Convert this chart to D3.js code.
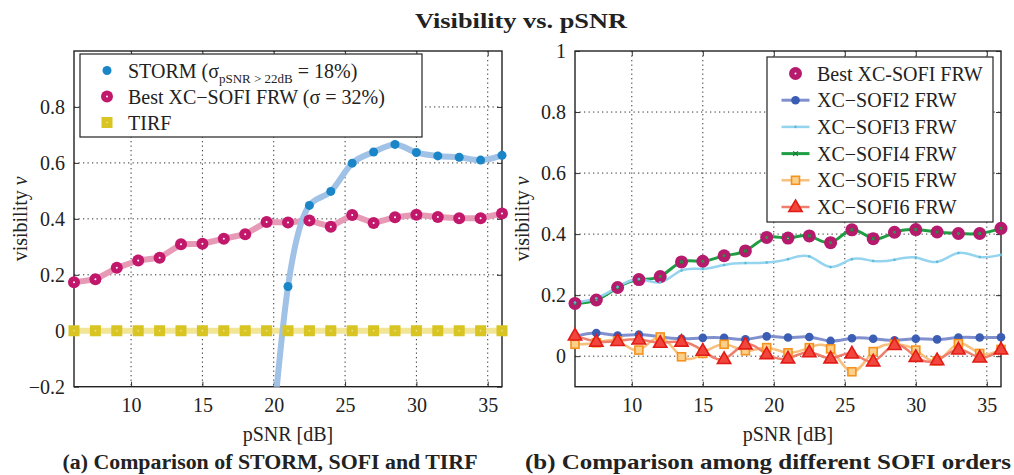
<!DOCTYPE html>
<html>
<head>
<meta charset="utf-8">
<script src="https://cdn.jsdelivr.net/npm/d3@7"></script>
<style>
  body { margin: 0; background: #fff; }
  text { font-family: "Liberation Serif", "Times New Roman", serif; fill: #222; }
</style>
</head>
<body>
<script>
// pSNR values (dB) of the measurements
const psnr = [6, 7.5, 9, 10.5, 12, 13.5, 15, 16.5, 18, 19.5, 21, 22.5, 24, 25.5, 27, 28.5, 30, 31.5, 33, 34.5, 36];

// panel (a)
const storm = [null, null, null, null, null, null, null, null, null, -0.6, 0.158, 0.448, 0.498, 0.599, 0.639, 0.666, 0.637, 0.625, 0.620, 0.610, 0.627];
const bestSofi = [0.173, 0.184, 0.225, 0.251, 0.261, 0.309, 0.311, 0.329, 0.345, 0.389, 0.387, 0.394, 0.372, 0.414, 0.385, 0.406, 0.415, 0.407, 0.402, 0.402, 0.419];
const tirf = [0, 0, 0, 0, 0, 0, 0, 0, 0, 0, 0, 0, 0, 0, 0, 0, 0, 0, 0, 0, 0];

// panel (b)
const sofi2 = [0.065, 0.076, 0.068, 0.071, 0.063, 0.057, 0.060, 0.060, 0.055, 0.065, 0.061, 0.063, 0.050, 0.059, 0.057, 0.052, 0.057, 0.055, 0.061, 0.061, 0.062];
const sofi3 = [0.176, 0.190, 0.227, 0.253, 0.242, 0.281, 0.286, 0.299, 0.305, 0.307, 0.318, 0.327, 0.292, 0.318, 0.312, 0.316, 0.323, 0.309, 0.338, 0.325, 0.332];
const sofi4 = [0.173, 0.184, 0.225, 0.251, 0.261, 0.309, 0.311, 0.329, 0.345, 0.389, 0.387, 0.394, 0.372, 0.414, 0.385, 0.406, 0.415, 0.407, 0.402, 0.402, 0.419];
const sofi5 = [0.039, 0.044, 0.050, 0.020, 0.063, -0.002, 0.009, 0.039, 0.018, 0.028, 0.011, 0.028, 0.024, -0.051, 0.015, 0.039, 0.020, -0.015, 0.041, 0.009, 0.022];
const sofi6 = [0.068, 0.048, 0.050, 0.055, 0.044, 0.048, 0.018, -0.009, 0.039, 0.007, -0.007, 0.013, -0.007, 0.009, -0.017, 0.037, -0.002, -0.013, 0.022, -0.004, 0.022];

const xTicks = [10, 15, 20, 25, 30, 35];
const yTicksA = [-0.2, 0, 0.2, 0.4, 0.6, 0.8];
const yTicksB = [0, 0.2, 0.4, 0.6, 0.8, 1];

const svg = d3.select('body').append('svg')
  .attr('width', 1014)
  .attr('height', 475);

svg.append('rect').attr('width', 1014).attr('height', 475).attr('fill', '#fff');

svg.append('text')
  .attr('x', 521).attr('y', 28)
  .attr('text-anchor', 'middle')
  .attr('textLength', 212).attr('lengthAdjust', 'spacingAndGlyphs')
  .style('font-size', '22px').style('font-weight', 'bold')
  .text('Visibility vs. pSNR');

// marker drawing helpers
function marker(g, type, x, y, s) {
  if (type === 'dot') {
    g.append('circle').attr('cx', x).attr('cy', y).attr('r', s.r).attr('fill', s.fill);
  } else if (type === 'ring') {
    g.append('circle').attr('cx', x).attr('cy', y).attr('r', s.r).attr('fill', s.fill);
    g.append('circle').attr('cx', x).attr('cy', y).attr('r', 1).attr('fill', s.center || '#fff');
  } else if (type === 'square') {
    g.append('rect').attr('x', x - s.r).attr('y', y - s.r).attr('width', 2 * s.r).attr('height', 2 * s.r)
      .attr('fill', s.fill).attr('stroke', s.stroke || 'none').attr('stroke-width', s.sw || 0);
    if (s.center) g.append('circle').attr('cx', x).attr('cy', y).attr('r', 0.8).attr('fill', s.center);
  } else if (type === 'tri') {
    const r = s.r;
    g.append('path')
      .attr('d', 'M' + x + ',' + (y - r) + 'L' + (x + r * 0.95) + ',' + (y + r * 0.65) + 'L' + (x - r * 0.95) + ',' + (y + r * 0.65) + 'Z')
      .attr('fill', s.fill).attr('stroke', s.stroke).attr('stroke-width', s.sw);
  } else if (type === 'cross') {
    const r = s.r;
    g.append('path')
      .attr('d', 'M' + (x - r) + ',' + (y - r) + 'L' + (x + r) + ',' + (y + r) + 'M' + (x - r) + ',' + (y + r) + 'L' + (x + r) + ',' + (y - r))
      .attr('stroke', s.fill).attr('stroke-width', 1.2);
  }
}

function panel(o) {
  const x = d3.scaleLinear().domain([6, 36]).range([o.left, o.right]);
  const y = d3.scaleLinear().domain(o.yDomain).range([o.bottom, o.top]);
  const g = svg.append('g');

  // dotted grid
  g.selectAll('.vgrid').data(xTicks).enter().append('line')
    .attr('x1', d => x(d)).attr('x2', d => x(d))
    .attr('y1', o.top).attr('y2', o.bottom)
    .attr('stroke', '#333').attr('stroke-width', 1).attr('stroke-dasharray', '1.3,3.2');
  g.selectAll('.hgrid').data(o.yTicks.filter(d => d > o.yDomain[0] && d < o.yDomain[1])).enter().append('line')
    .attr('y1', d => y(d)).attr('y2', d => y(d))
    .attr('x1', o.left).attr('x2', o.right)
    .attr('stroke', '#333').attr('stroke-width', 1).attr('stroke-dasharray', '1.3,3.2');

  // axes with inward ticks on all four sides
  g.append('g').attr('transform', 'translate(0,' + o.bottom + ')')
    .call(d3.axisBottom(x).tickValues(xTicks).tickSize(-5).tickPadding(11));
  g.append('g').attr('transform', 'translate(' + o.left + ',0)')
    .call(d3.axisLeft(y).tickValues(o.yTicks).tickSize(-5).tickPadding(9).tickFormat(d3.format('~g')));
  g.append('g').attr('transform', 'translate(0,' + o.top + ')')
    .call(d3.axisTop(x).tickValues(xTicks).tickSize(-5).tickFormat(''));
  g.append('g').attr('transform', 'translate(' + o.right + ',0)')
    .call(d3.axisRight(y).tickValues(o.yTicks).tickSize(-5).tickFormat(''));
  g.selectAll('.domain').remove();
  g.selectAll('.tick line').attr('stroke', '#333');
  g.selectAll('.tick text').style('font-size', '20px').attr('fill', '#222')
    .style('font-family', '"Liberation Serif", serif');

  g.append('rect')
    .attr('x', o.left).attr('y', o.top)
    .attr('width', o.right - o.left).attr('height', o.bottom - o.top)
    .attr('fill', 'none').attr('stroke', '#222').attr('stroke-width', 1.4);

  // labels
  g.append('text')
    .attr('x', (o.left + o.right) / 2).attr('y', 441)
    .attr('text-anchor', 'middle').style('font-size', '20px')
    .text('pSNR [dB]');
  const yl = g.append('text')
    .attr('transform', 'translate(' + o.ylabelX + ',' + ((o.top + o.bottom) / 2) + ') rotate(-90)')
    .attr('text-anchor', 'middle').style('font-size', '20px');
  yl.append('tspan').text('visibility ');
  yl.append('tspan').style('font-style', 'italic').text('v');

  g.append('text')
    .attr('x', o.capX).attr('y', 469)
    .attr('text-anchor', 'middle')
    .attr('textLength', o.capW).attr('lengthAdjust', 'spacingAndGlyphs')
    .style('font-size', '20px').style('font-weight', 'bold')
    .text(o.caption);

  // data
  const clipId = 'clip' + o.id;
  svg.append('clipPath').attr('id', clipId).append('rect')
    .attr('x', o.left - 8).attr('y', o.top).attr('width', o.right - o.left + 16).attr('height', o.bottom - o.top);
  const data = g.append('g').attr('clip-path', 'url(#' + clipId + ')');

  o.series.forEach(function(s) {
    const pts = psnr.map((p, i) => [p, s.values[i]]).filter(d => d[1] !== null);
    if (s.line) {
      data.append('path')
        .attr('d', d3.line().x(d => x(d[0])).y(d => y(d[1])).curve(s.curve || d3.curveLinear)(pts))
        .attr('fill', 'none').attr('stroke', s.line).attr('stroke-width', s.lw)
        .attr('stroke-linejoin', 'round');
    }
  });
  o.series.forEach(function(s) {
    const pts = psnr.map((p, i) => [p, s.values[i]]).filter(d => d[1] !== null);
    pts.forEach(d => marker(data, s.marker, x(d[0]), y(d[1]), s.plotMs || s.ms));
  });

  // legend
  const lg = g.append('g');
  lg.append('rect')
    .attr('x', o.legend.x).attr('y', o.legend.y)
    .attr('width', o.legend.w).attr('height', o.legend.h)
    .attr('fill', '#fff').attr('stroke', '#222').attr('stroke-width', 1.2);
  o.legendItems.forEach(function(s, i) {
    const cy = o.legend.y + o.legend.first + i * o.legend.step;
    const mx = o.legend.mx;
    if (s.legendLine) {
      lg.append('line').attr('x1', mx - 14).attr('x2', mx + 14).attr('y1', cy).attr('y2', cy)
        .attr('stroke', s.line).attr('stroke-width', s.lw);
    }
    marker(lg, s.marker, mx, cy, s.ms);
    const t = lg.append('text').attr('x', o.legend.tx).attr('y', cy + 7).style('font-size', '20px');
    s.label.forEach(function(part) {
      const ts = t.append('tspan').text(part.t);
      if (part.sub) ts.style('font-size', '13px').attr('dy', 5);
      if (part.up) ts.attr('dy', -5);
    });
  });
}

// series styles
const sStorm = { values: storm, line: '#9fc2e6', lw: 6, curve: d3.curveMonotoneX, marker: 'dot', ms: { r: 4.5, fill: '#1a86c8' },
  label: [{ t: 'STORM (σ' }, { t: 'pSNR > 22dB', sub: true }, { t: ' = 18%)', up: true }] };
const sBestA = { values: bestSofi, line: '#e79ab6', lw: 6, marker: 'ring', ms: { r: 6, fill: '#c2186c' },
  label: [{ t: 'Best XC−SOFI FRW (σ = 32%)' }] };
const sTirf = { values: tirf, line: '#f2e596', lw: 6, marker: 'square', ms: { r: 5.5, fill: '#d8c523', center: '#f4ec9c' },
  label: [{ t: 'TIRF' }] };

panel({
  id: 'a', left: 74, right: 502, top: 51, bottom: 386.7, yDomain: [-0.2, 1], yTicks: yTicksA,
  ylabelX: 27, capX: 270, capW: 415, caption: '(a) Comparison of STORM, SOFI and TIRF',
  series: [sTirf, sBestA, sStorm],
  legendItems: [sStorm, sBestA, sTirf],
  legend: { x: 80, y: 54, w: 342, h: 83, first: 16.5, step: 26, mx: 107, tx: 128 }
});

const sBestB = { values: bestSofi, marker: 'ring', ms: { r: 6.5, fill: '#b51a6c' },
  label: [{ t: 'Best XC-SOFI FRW' }] };
const s2 = { values: sofi2, line: '#8090cf', lw: 3, curve: d3.curveNatural, marker: 'dot', ms: { r: 4.3, fill: '#3b5db3' }, legendLine: true,
  label: [{ t: 'XC−SOFI2 FRW' }] };
const s3 = { values: sofi3, line: '#94d4ee', lw: 2.5, curve: d3.curveNatural, marker: 'dot', ms: { r: 1.3, fill: '#5fbcd8' }, legendLine: true,
  label: [{ t: 'XC−SOFI3 FRW' }] };
const s4 = { values: sofi4, line: '#1f9d43', lw: 3, curve: d3.curveNatural, marker: 'cross', ms: { r: 2.3, fill: '#157a35' }, legendLine: true,
  plotMs: { r: 1.4, fill: '#1b8a3c' },
  label: [{ t: 'XC−SOFI4 FRW' }] };
const s5 = { values: sofi5, line: '#f8c07c', lw: 2.5, curve: d3.curveNatural, marker: 'square', ms: { r: 4, fill: '#fbd08a', stroke: '#f5921e', sw: 1.6 }, legendLine: true,
  label: [{ t: 'XC−SOFI5 FRW' }] };
const s6 = { values: sofi6, line: '#ef7f6c', lw: 2.5, curve: d3.curveNatural, marker: 'tri', ms: { r: 7, fill: '#f0463c', stroke: '#e21b16', sw: 1.6 }, legendLine: true,
  label: [{ t: 'XC−SOFI6 FRW' }] };

// lines are drawn first, so the green line runs under the magenta rings,
// then the small green markers sit on top of them
panel({
  id: 'b', left: 575, right: 1001, top: 51, bottom: 386.7, yDomain: [-0.1, 1], yTicks: yTicksB,
  ylabelX: 529, capX: 768, capW: 486, caption: '(b) Comparison among different SOFI orders',
  series: [sBestB, s4, s3, s2, s5, s6],
  legendItems: [sBestB, s2, s3, s4, s5, s6],
  legend: { x: 767, y: 57, w: 226, h: 165, first: 16.5, step: 26.7, mx: 795.5, tx: 817 }
});
</script>
</body>
</html>
